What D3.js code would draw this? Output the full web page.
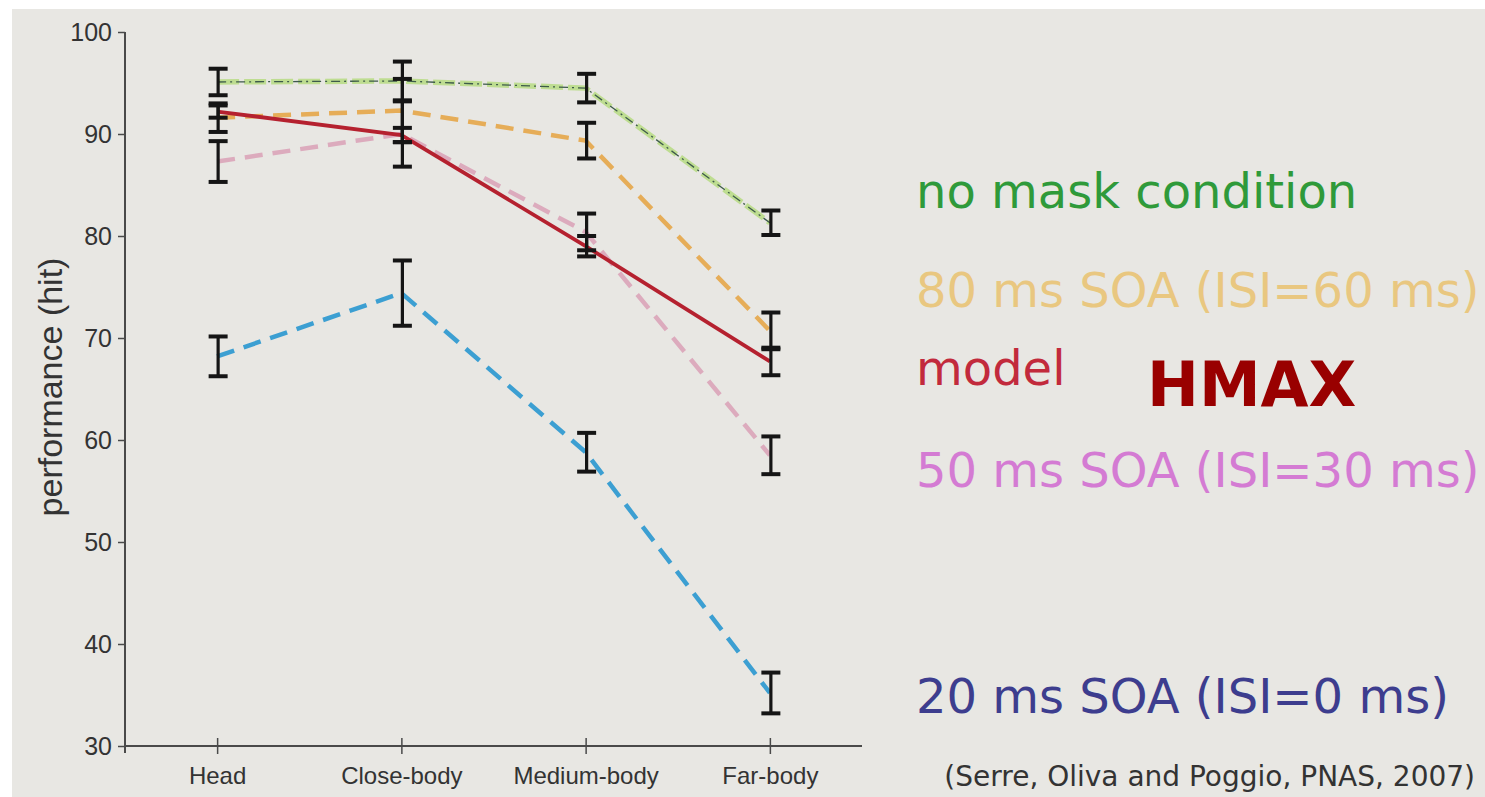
<!DOCTYPE html>
<html>
<head>
<meta charset="utf-8">
<script src="https://cdn.jsdelivr.net/npm/d3@7"></script>
<style>
  html, body { margin: 0; padding: 0; background: #ffffff; }
  svg { display: block; }
</style>
</head>
<body>
<svg id="chart" width="1485" height="797"></svg>
<script>
// Categories along the x axis
const categories = ["Head", "Close-body", "Medium-body", "Far-body"];

// Mean hit rate per condition, with error half-widths
const noMask     = [95.1, 95.2, 94.5, 81.3];
const noMaskErr  = [1.3, 1.9, 1.4, 1.2];
const soa80      = [91.6, 92.3, 89.35, 70.7];
const soa80Err   = [1.4, 3.1, 1.75, 1.8];
const model      = [92.2, 89.9, 79.0, 67.7];
const modelErr   = [0.6, 0.7, 1.0, 1.35];
const soa50      = [87.3, 90.0, 80.4, 58.5];
const soa50Err   = [2.0, 3.2, 1.8, 1.85];
const soa20      = [68.2, 74.4, 58.8, 35.2];
const soa20Err   = [1.95, 3.2, 1.9, 2.0];

// Y axis ticks
const yTicks = [30, 40, 50, 60, 70, 80, 90, 100];

// Legend text
const legendLabels = ["no mask condition", "80 ms SOA (ISI=60 ms)", "model", "50 ms SOA (ISI=30 ms)", "20 ms SOA (ISI=0 ms)"];
const legendColors = ["#2f9a3a", "#e9c780", "#c22a3c", "#d47bd3", "#3d3d8e"];
const title = "HMAX";
const citation = "(Serre, Oliva and Poggio, PNAS, 2007)";
const yLabel = "performance (hit)";

const svg = d3.select("#chart");

// backdrop: grey panel with a thin white margin on the left and top
svg.append("rect").attr("x", 0).attr("y", 0).attr("width", 1485).attr("height", 797).attr("fill", "#ffffff");
svg.append("rect").attr("x", 12).attr("y", 9).attr("width", 1473).attr("height", 788).attr("fill", "#e8e7e3");

const x = d3.scalePoint().domain(categories).range([125, 862]).padding(0.5);
const y = d3.scaleLinear().domain([30, 100]).range([746, 32]);

const axisColor = "#4a4a4a";
const textColor = "#333333";

// y axis
const yAxis = svg.append("g").attr("transform", "translate(125,0)")
  .call(d3.axisLeft(y).tickValues(yTicks).tickSize(7).tickPadding(6).tickFormat(d3.format("d")));
yAxis.select(".domain").attr("stroke", axisColor).attr("stroke-width", 2)
  .attr("d", `M0,${y(100)}V${y(30) + 7}`);
yAxis.selectAll(".tick line").attr("stroke", axisColor).attr("stroke-width", 1.5);
yAxis.selectAll(".tick text").attr("fill", textColor)
  .style("font-family", "'Liberation Sans', Arial, sans-serif").style("font-size", "25px");

// x axis
const xAxis = svg.append("g").attr("transform", `translate(0,${y(30)})`)
  .call(d3.axisBottom(x).tickSize(0).tickPadding(21));
xAxis.select(".domain").attr("stroke", axisColor).attr("stroke-width", 2)
  .attr("d", `M125,0H862`);
xAxis.selectAll(".tick line").attr("stroke", axisColor).attr("stroke-width", 1.5)
  .attr("y1", -8).attr("y2", 8);
xAxis.selectAll(".tick text").attr("fill", textColor)
  .style("font-family", "'Liberation Sans', Arial, sans-serif").style("font-size", "24px");

// y axis title
svg.append("text")
  .attr("transform", `translate(62,${(y(30) + y(100)) / 2 - 2}) rotate(-90)`)
  .attr("text-anchor", "middle")
  .attr("fill", textColor)
  .style("font-family", "'Liberation Sans', Arial, sans-serif")
  .style("font-size", "34px")
  .text(yLabel);

const line = d3.line().x((d, i) => x(categories[i])).y(d => y(d));

// data lines
const plot = svg.append("g");
// no-mask: pale green band with a thin dark dash-dot line on top
plot.append("path").datum(noMask).attr("d", line).attr("fill", "none")
  .attr("stroke", "#bcdc8c").attr("stroke-width", 5.5).attr("stroke-dasharray", "22,5").attr("opacity", 0.95);
plot.append("path").datum(noMask).attr("d", line).attr("fill", "none")
  .attr("stroke", "#3d5a4a").attr("stroke-width", 1.3).attr("stroke-dasharray", "9,4,2,4");
plot.append("path").datum(soa80).attr("d", line).attr("fill", "none")
  .attr("stroke", "#e6ad58").attr("stroke-width", 4.5).attr("stroke-dasharray", "18,10");
plot.append("path").datum(soa50).attr("d", line).attr("fill", "none")
  .attr("stroke", "#dcabbd").attr("stroke-width", 4.5).attr("stroke-dasharray", "18,10");
plot.append("path").datum(soa20).attr("d", line).attr("fill", "none")
  .attr("stroke", "#3c9fd2").attr("stroke-width", 4.5).attr("stroke-dasharray", "18,10");
plot.append("path").datum(model).attr("d", line).attr("fill", "none")
  .attr("stroke", "#b5212f").attr("stroke-width", 3.8);

// error bars
const series = [
  [noMask, noMaskErr], [soa80, soa80Err], [model, modelErr], [soa50, soa50Err], [soa20, soa20Err]
];
const bars = [];
series.forEach(([vals, errs]) => vals.forEach((v, i) => bars.push({ c: categories[i], lo: v - errs[i], hi: v + errs[i] })));
const eb = svg.append("g").attr("stroke", "#151515");
eb.selectAll("line.v").data(bars).join("line").attr("class", "v")
  .attr("x1", d => x(d.c) + 1).attr("x2", d => x(d.c) + 1)
  .attr("y1", d => y(d.hi)).attr("y2", d => y(d.lo)).attr("stroke-width", 3.2);
eb.selectAll("line.t").data(bars).join("line").attr("class", "t")
  .attr("x1", d => x(d.c) - 8.5).attr("x2", d => x(d.c) + 10.5)
  .attr("y1", d => y(d.hi)).attr("y2", d => y(d.hi)).attr("stroke-width", 4);
eb.selectAll("line.b").data(bars).join("line").attr("class", "b")
  .attr("x1", d => x(d.c) - 8.5).attr("x2", d => x(d.c) + 10.5)
  .attr("y1", d => y(d.lo)).attr("y2", d => y(d.lo)).attr("stroke-width", 4);

// legend text on the right
const legendY = [208, 307, 385, 487, 713];
const legend = svg.append("g")
  .style("font-family", "'DejaVu Sans', Verdana, sans-serif").style("font-size", "48px");
legend.selectAll("text").data(legendLabels).join("text")
  .attr("x", 916).attr("y", (d, i) => legendY[i])
  .attr("fill", (d, i) => legendColors[i])
  .text(d => d);

svg.append("text").attr("x", 1147).attr("y", 406)
  .attr("fill", "#990000")
  .style("font-family", "'DejaVu Sans', Verdana, sans-serif").style("font-weight", "bold").style("font-size", "62px")
  .text(title);

svg.append("text").attr("x", 1475).attr("y", 786).attr("text-anchor", "end")
  .attr("fill", "#333333")
  .style("font-family", "'DejaVu Sans', Verdana, sans-serif").style("font-size", "28px")
  .text(citation);
</script>
</body>
</html>
